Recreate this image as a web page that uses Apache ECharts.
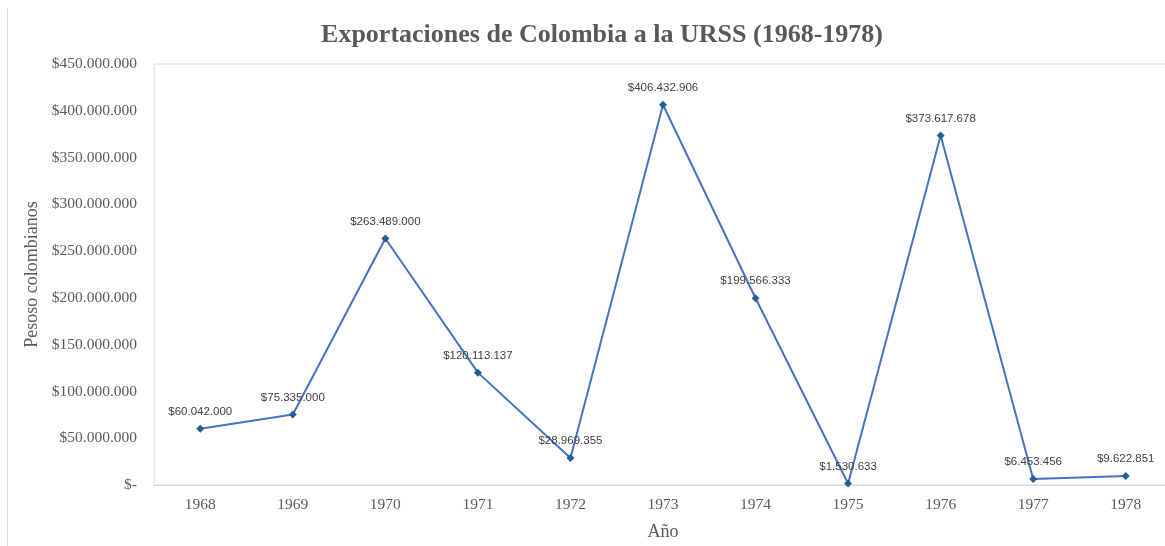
<!DOCTYPE html>
<html>
<head>
<meta charset="utf-8">
<script src="https://cdn.jsdelivr.net/npm/echarts@6/dist/echarts.min.js"></script>
<style>
  html, body { margin: 0; padding: 0; background: #fff; }
  #chart { width: 1165px; height: 546px; }
</style>
</head>
<body>
<div id="chart"></div>
<script>
const years = ["1968", "1969", "1970", "1971", "1972", "1973", "1974", "1975", "1976", "1977", "1978"];
const exportsCop = [60042000, 75335000, 263489000, 120113137, 28969355, 406432906, 199566333, 1530633, 373617678, 6453456, 9622851];

const serif = "'Liberation Serif', 'Times New Roman', serif";

function money(v) {
  if (v === 0) return "$-";
  return "$" + Math.round(v).toString().replace(/\B(?=(\d{3})+(?!\d))/g, ".");
}

const chart = echarts.init(document.getElementById("chart"));
chart.setOption({
  animation: false,
  title: {
    text: "Exportaciones de Colombia a la URSS (1968-1978)",
    left: 597,
    textAlign: "center",
    top: 17,
    textStyle: { fontFamily: serif, fontSize: 26, fontWeight: "bold", color: "#595959" }
  },
  graphic: [
    { type: "line", shape: { x1: 7.5, y1: 8, x2: 7.5, y2: 546 }, style: { stroke: "#d9d9d9", lineWidth: 1 } }
  ],
  grid: {
    left: 154, top: 64, bottom: 61, width: 1018,
    outerBoundsMode: "none",
    show: true, borderColor: "#d9d9d9", borderWidth: 1
  },
  xAxis: {
    type: "category",
    data: years,
    boundaryGap: true,
    name: "Año",
    nameLocation: "middle",
    nameGap: 38,
    nameTextStyle: { fontFamily: serif, fontSize: 18, color: "#595959" },
    axisLine: { lineStyle: { color: "#d9d9d9" } },
    axisTick: { show: false },
    axisLabel: { fontFamily: serif, fontSize: 15.5, color: "#595959", margin: 12 }
  },
  yAxis: {
    type: "value",
    min: 0,
    max: 450000000,
    interval: 50000000,
    name: "Pesoso colombianos",
    nameLocation: "middle",
    nameGap: 106,
    nameTextStyle: { fontFamily: serif, fontSize: 18, color: "#595959" },
    axisLine: { show: false },
    axisTick: { show: false },
    splitLine: { show: false },
    axisLabel: { fontFamily: serif, fontSize: 15.5, color: "#595959", margin: 17, formatter: money }
  },
  series: [{
    type: "line",
    data: exportsCop,
    symbol: "diamond",
    symbolSize: 8,
    lineStyle: { color: "#4472C4", width: 2 },
    itemStyle: { color: "#255E91" },
    label: {
      show: true,
      position: "top",
      distance: 7,
      fontFamily: "'Liberation Sans', Arial, sans-serif",
      fontSize: 11.5,
      color: "#404040",
      formatter: p => money(p.value)
    }
  }]
});
</script>
</body>
</html>
